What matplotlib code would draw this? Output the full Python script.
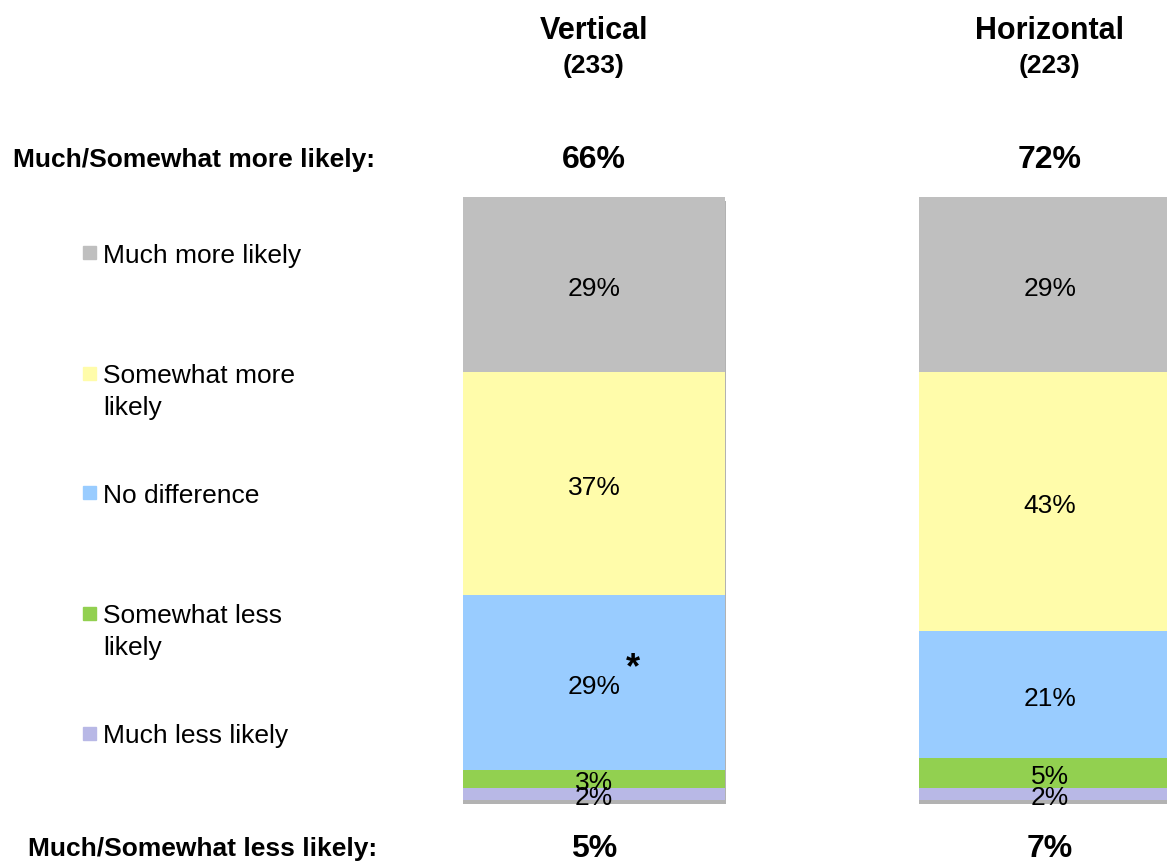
import matplotlib
matplotlib.use("Agg")
import matplotlib.pyplot as plt
import matplotlib.patheffects as pe
from matplotlib import transforms
from matplotlib.patches import Rectangle
import numpy as np

plt.rcParams['font.family'] = ['Liberation Sans', 'DejaVu Sans']

groups = ["Vertical", "Horizontal"]
bases = ["(233)", "(223)"]
more_likely = ["66%", "72%"]
less_likely = ["5%", "7%"]

# stacked bottom -> top
segments = ["Much less likely", "Somewhat less\nlikely", "No difference",
            "Somewhat more\nlikely", "Much more likely"]
colors = ["#B8B8E6", "#92D050", "#99CCFF", "#FFFCAA", "#BFBFBF"]
values = {
    "Vertical":   [2, 3, 29, 37, 29],
    "Horizontal": [2, 5, 21, 43, 29],
}

fig = plt.figure(figsize=(11.67, 8.63), dpi=100)
ax = fig.add_axes([0, 0.0730, 1, 0.6987])
ax.set_xlim(-1.3026, 1.2566)
ax.set_ylim(0, 100)
ax.axis("off")

x = np.arange(len(groups))
width = 0.575

# soft shadow behind each stack
totals = [sum(values[g]) for g in groups]
shadow = ax.bar(x, totals, width, color="white", zorder=1, linewidth=0,
                path_effects=[pe.SimplePatchShadow(offset=(0.3, -2.6), shadow_rgbFace="#7f7f7f", alpha=0.6),
                              pe.Normal()])
for p in shadow:
    p.set_clip_on(False)

for i, g in enumerate(groups):
    bottom = 0
    for v, c in zip(values[g], colors):
        ax.bar(x[i], v, width, bottom=bottom, color=c, zorder=2, linewidth=0)
        ax.annotate(f"{v}%", xy=(x[i], bottom + v / 2), xytext=(0, -3),
                    textcoords="offset points", ha="center", va="center",
                    fontsize=19, zorder=3)
        bottom += v

# significance mark next to Vertical "No difference"
v0 = values["Vertical"]
ax.annotate("*", xy=(x[0], v0[0] + v0[1] + v0[2] / 2), xytext=(28, 10),
            textcoords="offset points", ha="center", va="center",
            fontsize=26, fontweight="bold", zorder=4)

# column headers and summaries
tr = transforms.blended_transform_factory(ax.transData, fig.transFigure)
for i, g in enumerate(groups):
    ax.text(x[i], 0.9641, g, transform=tr, ha="center", va="center",
            fontsize=22, fontweight="bold")
    ax.text(x[i], 0.9235, bases[i], transform=tr, ha="center", va="center",
            fontsize=19, fontweight="bold")
    ax.text(x[i], 0.8146, more_likely[i], transform=tr, ha="center", va="center",
            fontsize=23, fontweight="bold")
    ax.text(x[i], 0.0162, less_likely[i], transform=tr, ha="center", va="center",
            fontsize=23, fontweight="bold")

fig.text(0.3213, 0.8146, "Much/Somewhat more likely:", ha="right", va="center",
         fontsize=19, fontweight="bold")
fig.text(0.3230, 0.0162, "Much/Somewhat less likely:", ha="right", va="center",
         fontsize=19, fontweight="bold")

# legend, top entry first
for k, (lab, c) in enumerate(zip(segments[::-1], colors[::-1])):
    yc = 1 - (253 + 120 * k) / 863
    fig.patches.append(Rectangle((83 / 1167, yc - 6.5 / 863), 13 / 1167, 13 / 863,
                                 transform=fig.transFigure, color=c))
    fig.text(103 / 1167, yc + 9 / 863, lab, ha="left", va="top",
             fontsize=19, linespacing=1.4)

fig.savefig("out.png", dpi=100)
